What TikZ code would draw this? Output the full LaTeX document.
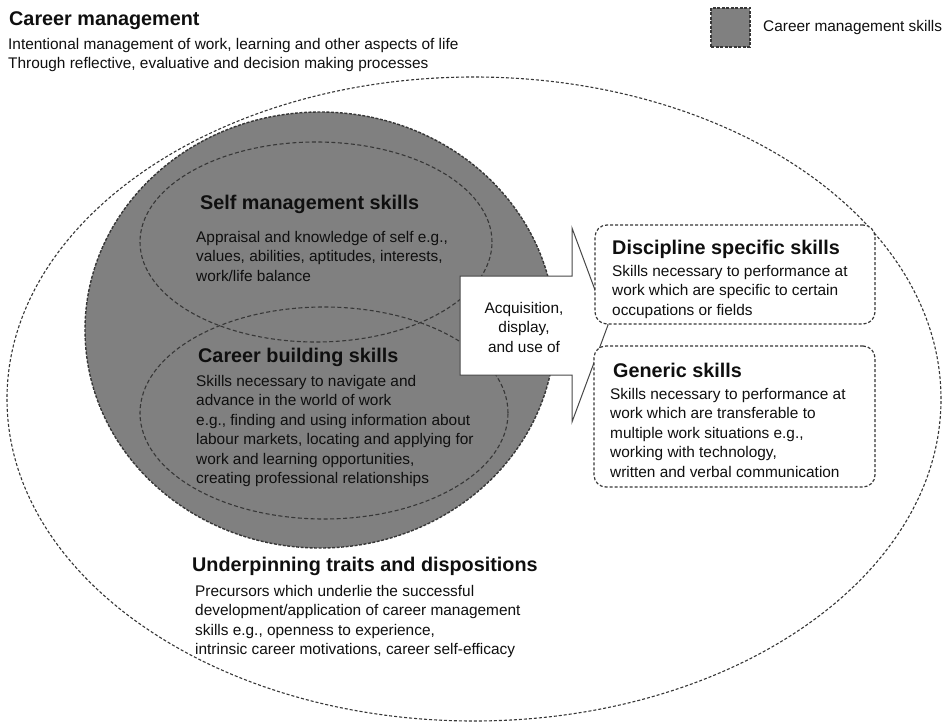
\documentclass[tikz,border=0pt]{standalone}
\usepackage{fontspec}
\setmainfont{Liberation Sans}
\usetikzlibrary{shapes.geometric}
\definecolor{cmsgray}{RGB}{128,128,128}
\definecolor{dashgray}{RGB}{55,55,55}
\definecolor{txtcol}{RGB}{15,15,15}
\newcommand{\bodyfnt}{\fontsize{15.4}{19.5}\selectfont}
\newcommand{\titlefnt}{\fontsize{19.8}{24}\selectfont\bfseries}
\newcommand{\toprl}{\rule{0pt}{14pt}}
\begin{document}
\begin{tikzpicture}[x=1pt,y=-1pt,
  bodytxt/.style={anchor=north west,inner sep=0pt,align=left,font=\bodyfnt,text=txtcol},
  titletxt/.style={anchor=base west,inner sep=0pt,font=\titlefnt,text=txtcol},
  outerdash/.style={draw=dashgray,line width=1.1pt,dash pattern=on 3pt off 2pt},
  innerdash/.style={draw=dashgray,line width=1.1pt,dash pattern=on 4pt off 2.5pt},
  cmsdash/.style={draw=dashgray,line width=1.4pt,dash pattern=on 3pt off 1.5pt},
  skillbox/.style={draw=dashgray,line width=1.2pt,dash pattern=on 3pt off 2pt,rounded corners=12pt,fill=white,inner sep=0pt}
]
\useasboundingbox (0,0) rectangle (946,725);
\fill[white] (0,0) rectangle (946,725);

% outer ellipse
\node[ellipse,outerdash,inner sep=0pt,minimum width=934pt,minimum height=644pt] (outer) at (474,399) {};

% career management skills gray ellipse
\node[ellipse,cmsdash,fill=cmsgray,inner sep=0pt,minimum width=470pt,minimum height=436pt] (cms) at (320,330) {};

% inner ellipses
\node[ellipse,innerdash,inner sep=0pt,minimum width=352pt,minimum height=200pt] (selfell) at (316,242) {};
\node[ellipse,innerdash,inner sep=0pt,minimum width=368pt,minimum height=212pt] (buildell) at (324,413) {};

% arrow
\draw[draw=black!72,line width=1pt,fill=white] (460,276) -- (572,276) -- (572,228) -- (608,325) -- (572,422) -- (572,375) -- (460,375) -- cycle;
\node[anchor=north,inner sep=0pt,align=center,font=\bodyfnt,text=txtcol] (acq) at (524,299) {\toprl Acquisition,\\display,\\and use of};

% skill boxes
\node[skillbox,minimum width=280pt,minimum height=99pt] (discbox) at (735,274.5) {};
\node[skillbox,minimum width=281pt,minimum height=141pt] (genbox) at (734.5,416.5) {};

% legend
\node[draw=dashgray,line width=1.1pt,dash pattern=on 3pt off 1.5pt,fill=cmsgray,minimum size=39pt,inner sep=0pt] (legsq) at (730.5,27.5) {};
\node[anchor=base west,inner sep=0pt,font=\bodyfnt,text=txtcol] (legtxt) at (763,32) {Career management skills};

% texts
\node[titletxt] (cmtitle) at (9,26) {Career management};
\node[bodytxt] (cmbody) at (8,35) {\toprl Intentional management of work, learning and other aspects of life\\Through reflective, evaluative and decision making processes};

\node[titletxt] (selftitle) at (200,209) {Self management skills};
\node[bodytxt] (selfbody) at (196,228) {\toprl Appraisal and knowledge of self e.g.,\\values, abilities, aptitudes, interests,\\work/life balance};

\node[titletxt] (buildtitle) at (198,362) {Career building skills};
\node[bodytxt] (buildbody) at (196,372) {\toprl Skills necessary to navigate and\\advance in the world of work\\e.g., finding and using information about\\labour markets, locating and applying for\\work and learning opportunities,\\creating professional relationships};

\node[titletxt] (undtitle) at (192,571) {Underpinning traits and dispositions};
\node[bodytxt] (undbody) at (195,582) {\toprl Precursors which underlie the successful\\development/application of career management\\skills e.g., openness to experience,\\intrinsic career motivations, career self-efficacy};

\node[titletxt] (disctitle) at (612,254) {Discipline specific skills};
\node[bodytxt] (discbody) at (612,262) {\toprl Skills necessary to performance at\\work which are specific to certain\\occupations or fields};

\node[titletxt] (gentitle) at (613,377) {Generic skills};
\node[bodytxt] (genbody) at (610,385) {\toprl Skills necessary to performance at\\work which are transferable to\\multiple work situations e.g.,\\working with technology,\\written and verbal communication};
\end{tikzpicture}
\end{document}
